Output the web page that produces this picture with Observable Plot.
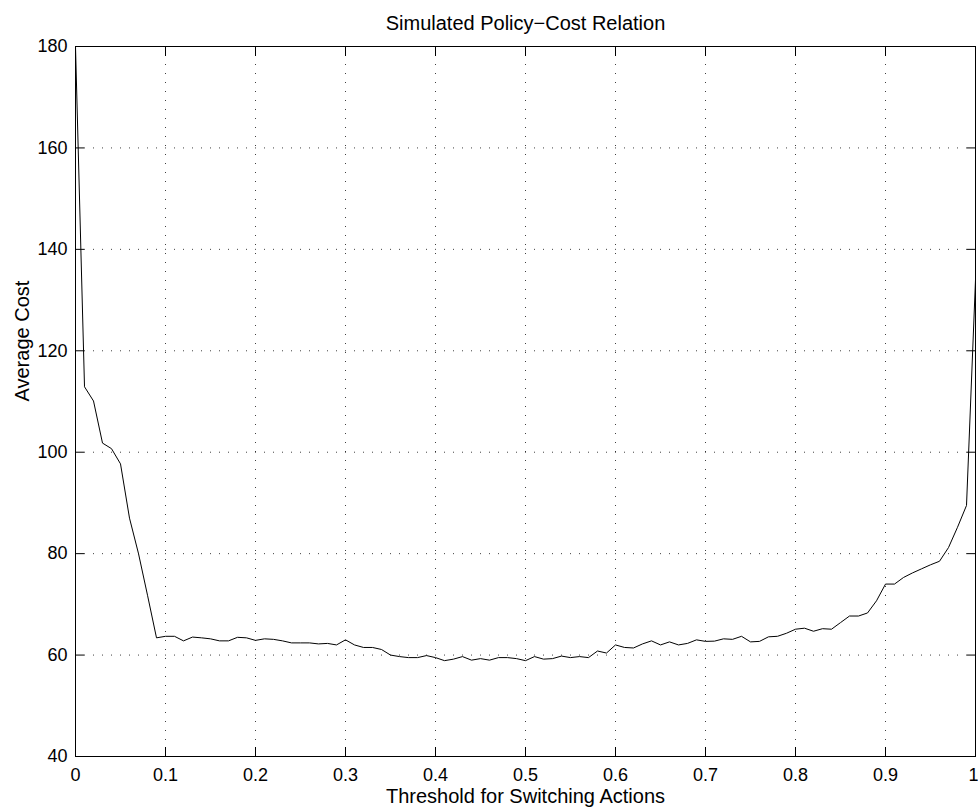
<!DOCTYPE html>
<html>
<head>
<meta charset="utf-8">
<script src="https://cdn.jsdelivr.net/npm/d3@7"></script>
<script src="https://cdn.jsdelivr.net/npm/@observablehq/plot@0.6"></script>
<style>
  html, body { margin: 0; padding: 0; background: #fff; }
  #chart { width: 978px; height: 810px; }
</style>
</head>
<body>
<div id="chart"></div>
<script>
const titleText = "Simulated Policy\u2212Cost Relation";
const xLabel = "Threshold for Switching Actions";
const yLabel = "Average Cost";

const thresholds = [
  0.00, 0.01, 0.02, 0.03, 0.04, 0.05, 0.06, 0.07, 0.08, 0.09,
  0.10, 0.11, 0.12, 0.13, 0.14, 0.15, 0.16, 0.17, 0.18, 0.19,
  0.20, 0.21, 0.22, 0.23, 0.24, 0.25, 0.26, 0.27, 0.28, 0.29,
  0.30, 0.31, 0.32, 0.33, 0.34, 0.35, 0.36, 0.37, 0.38, 0.39,
  0.40, 0.41, 0.42, 0.43, 0.44, 0.45, 0.46, 0.47, 0.48, 0.49,
  0.50, 0.51, 0.52, 0.53, 0.54, 0.55, 0.56, 0.57, 0.58, 0.59,
  0.60, 0.61, 0.62, 0.63, 0.64, 0.65, 0.66, 0.67, 0.68, 0.69,
  0.70, 0.71, 0.72, 0.73, 0.74, 0.75, 0.76, 0.77, 0.78, 0.79,
  0.80, 0.81, 0.82, 0.83, 0.84, 0.85, 0.86, 0.87, 0.88, 0.89,
  0.90, 0.91, 0.92, 0.93, 0.94, 0.95, 0.96, 0.97, 0.98, 0.99,
  1.00
];

const avgCost = [
  180.0, 112.9, 110.1, 101.8, 100.7, 97.7, 87.0, 80.0, 71.8, 63.4,
  63.7, 63.7, 62.8, 63.55, 63.4, 63.2, 62.8, 62.8, 63.5, 63.4,
  62.9, 63.2, 63.1, 62.8, 62.4, 62.4, 62.4, 62.2, 62.3, 62.0,
  63.0, 62.0, 61.5, 61.5, 61.1, 60.0, 59.7, 59.5, 59.5, 59.9,
  59.5, 58.9, 59.2, 59.7, 59.0, 59.3, 59.0, 59.5, 59.5, 59.3,
  58.9, 59.7, 59.2, 59.3, 59.8, 59.5, 59.7, 59.5, 60.8, 60.4,
  62.0, 61.5, 61.4, 62.2, 62.8, 62.0, 62.6, 62.0, 62.3, 63.0,
  62.7, 62.75, 63.2, 63.1, 63.7, 62.6, 62.7, 63.6, 63.7, 64.3,
  65.1, 65.3, 64.7, 65.2, 65.1, 66.4, 67.7, 67.7, 68.3, 70.7,
  74.0, 74.0, 75.3, 76.2, 77.0, 77.8, 78.5, 81.2, 85.2, 89.5,
  134.0
];

const xTicks = [0, 0.1, 0.2, 0.3, 0.4, 0.5, 0.6, 0.7, 0.8, 0.9, 1];
const xTickLabels = ["0", "0.1", "0.2", "0.3", "0.4", "0.5", "0.6", "0.7", "0.8", "0.9", "1"];
const yTicks = [40, 60, 80, 100, 120, 140, 160, 180];
const yTickLabels = ["40", "60", "80", "100", "120", "140", "160", "180"];

const data = thresholds.map((t, i) => ({t, c: avgCost[i]}));
const inner = (arr) => arr.slice(1, -1);
const xLab = (d) => xTickLabels[xTicks.indexOf(d)];
const yLab = (d) => yTickLabels[yTicks.indexOf(d)];

const font = "'Liberation Sans', Arial, Helvetica, sans-serif";
const T = 9; // inward tick length

const chart = Plot.plot({
  width: 978,
  height: 810,
  marginLeft: 75,
  marginRight: 3,
  marginTop: 46,
  marginBottom: 54,
  style: {fontFamily: font, background: "white", color: "black", overflow: "visible"},
  x: {domain: [0, 1], ticks: xTicks, label: null},
  y: {domain: [40, 180], ticks: yTicks, label: null},
  marks: [
    Plot.gridX(inner(xTicks), {stroke: "black", strokeOpacity: 0.75, strokeDasharray: "1,8"}),
    Plot.gridY(inner(yTicks), {stroke: "black", strokeOpacity: 0.75, strokeDasharray: "1,8"}),
    Plot.line(data, {x: "t", y: "c", stroke: "black", strokeWidth: 1}),
    Plot.frame({stroke: "black", strokeWidth: 1}),
    // inward ticks on all four sides
    Plot.axisX(xTicks, {anchor: "bottom", tickSize: T, dy: -T, tickFormat: () => "", label: null}),
    Plot.axisX(xTicks, {anchor: "top", tickSize: T, dy: T, tickFormat: () => "", label: null}),
    Plot.axisY(yTicks, {anchor: "left", tickSize: T, dx: T, tickFormat: () => "", label: null}),
    Plot.axisY(yTicks, {anchor: "right", tickSize: T, dx: -T, tickFormat: () => "", label: null}),
    // tick labels
    Plot.axisX(xTicks.slice(0, -1), {anchor: "bottom", tickSize: 0, tickPadding: 12, fontSize: 18,
      tickFormat: xLab, label: null}),
    Plot.axisX(xTicks.slice(-1), {anchor: "bottom", tickSize: 0, tickPadding: 12, fontSize: 18,
      textAnchor: "end", dx: 3, tickFormat: xLab, label: null}),
    Plot.axisY(yTicks, {anchor: "left", tickSize: 0, tickPadding: 8, fontSize: 18,
      tickFormat: yLab, label: null}),
    // title and axis titles
    Plot.text([titleText], {frameAnchor: "top", dy: -23, fontSize: 20, lineAnchor: "middle", fill: "black"}),
    Plot.text([xLabel], {frameAnchor: "bottom", dy: 40, fontSize: 20, lineAnchor: "middle", fill: "black"}),
    Plot.text([yLabel], {frameAnchor: "left", dx: -53, rotate: -90, fontSize: 20, lineAnchor: "middle", fill: "black"})
  ]
});

document.getElementById("chart").appendChild(chart);
</script>
</body>
</html>
